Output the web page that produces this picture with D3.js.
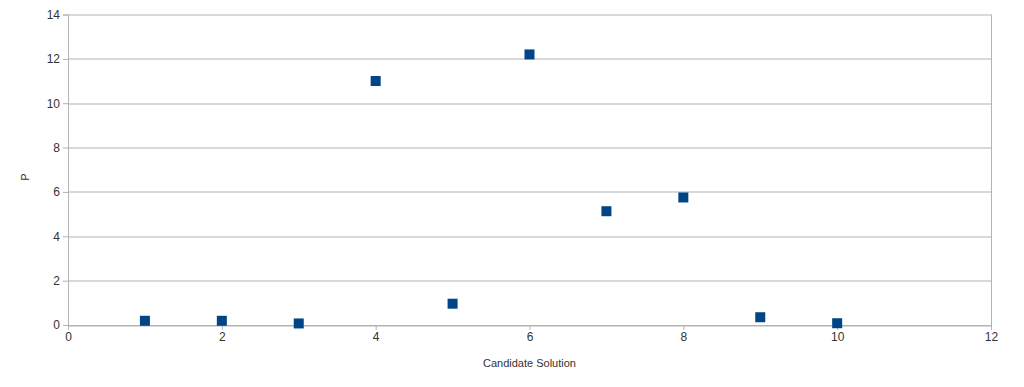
<!DOCTYPE html>
<html>
<head>
<meta charset="utf-8">
<script src="https://cdn.jsdelivr.net/npm/d3@7"></script>
<style>
  body { margin: 0; background: #fff; }
  text { font-family: "Liberation Sans", Arial, sans-serif; }
</style>
</head>
<body>
<div id="chart"></div>
<script>
// data
const candidates = [1, 2, 3, 4, 5, 6, 7, 8, 9, 10];
const pValues = [0.19, 0.19, 0.07, 11.0, 0.96, 12.2, 5.13, 5.75, 0.35, 0.08];
const xTicks = [0, 2, 4, 6, 8, 10, 12];
const yTicks = [0, 2, 4, 6, 8, 10, 12, 14];

const width = 1024, height = 387;
const margin = { top: 14.5, right: 33, bottom: 62, left: 68 };
const w = width - margin.left - margin.right;
const h = height - margin.top - margin.bottom;

const svg = d3.select('#chart').append('svg')
  .attr('width', width)
  .attr('height', height);

const g = svg.append('g')
  .attr('transform', `translate(${margin.left},${margin.top})`);

const x = d3.scaleLinear().domain([0, 12]).range([0, w]);
const y = d3.scaleLinear().domain([0, 14]).range([h, 0]);

// horizontal grid
g.selectAll('.grid')
  .data(yTicks)
  .enter().append('line')
  .attr('x1', 0).attr('x2', w)
  .attr('y1', d => Math.round(y(d)) + 0.5)
  .attr('y2', d => Math.round(y(d)) + 0.5)
  .attr('stroke', '#b3b3b3')
  .attr('stroke-width', 1);

// right border
g.append('line')
  .attr('x1', w + 0.5).attr('x2', w + 0.5)
  .attr('y1', 0).attr('y2', h)
  .attr('stroke', '#b3b3b3');

// axes
const yAxis = g.append('g')
  .call(d3.axisLeft(y).tickValues(yTicks).tickSize(5).tickPadding(3).tickFormat(d3.format('d')));
const xAxis = g.append('g')
  .attr('transform', `translate(0,${h})`)
  .call(d3.axisBottom(x).tickValues(xTicks).tickSize(5).tickPadding(2).tickFormat(d3.format('d')));

[xAxis, yAxis].forEach(a => {
  a.select('.domain').attr('stroke', '#b3b3b3');
  a.selectAll('.tick line').attr('stroke', '#b3b3b3');
  a.selectAll('text').attr('fill', '#333').style('font-size', '12px');
});

// points
g.selectAll('.pt')
  .data(candidates)
  .enter().append('rect')
  .attr('x', (d) => x(d) - 5)
  .attr('y', (d, i) => y(pValues[i]) - 5)
  .attr('width', 10)
  .attr('height', 10)
  .attr('fill', '#004586');

// axis titles
svg.append('text')
  .attr('x', margin.left + w / 2)
  .attr('y', 367)
  .attr('text-anchor', 'middle')
  .attr('fill', '#333')
  .style('font-size', '11px')
  .text('Candidate Solution');

svg.append('text')
  .attr('transform', 'translate(29,177) rotate(-90)')
  .attr('text-anchor', 'middle')
  .attr('fill', '#333')
  .style('font-size', '11px')
  .text('P');
</script>
</body>
</html>
